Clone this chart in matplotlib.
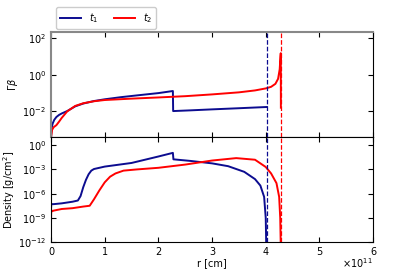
import matplotlib
matplotlib.use('Agg')
import matplotlib.pyplot as plt
import numpy as np

# radius in units of 1e11 cm
r1_gb = [0, 0.01, 0.03, 0.06, 0.1, 0.15, 0.2, 0.3, 0.45, 0.6, 0.8, 1.0, 1.3, 1.6, 2.0, 2.27, 2.275, 2.6, 3.0, 3.5, 4.02]
gb1 = [4e-4, 1.2e-3, 2.2e-3, 3.5e-3, 5e-3, 6.5e-3, 7.8e-3, 1.05e-2, 1.9e-2, 2.7e-2, 3.7e-2, 4.6e-2, 6e-2, 7.5e-2, 1.0e-1, 1.3e-1, 1.05e-2, 1.15e-2, 1.3e-2, 1.5e-2, 1.75e-2]

r2_gb = [0, 0.02, 0.05, 0.1, 0.15, 0.2, 0.3, 0.45, 0.6, 0.8, 1.0, 1.5, 2.0, 2.5, 3.0, 3.5, 3.8, 4.0, 4.1, 4.18, 4.23, 4.26, 4.275, 4.28, 4.282]
gb2 = [4e-4, 1e-3, 1.4e-3, 1.8e-3, 2.8e-3, 4.5e-3, 1.0e-2, 2.0e-2, 2.8e-2, 3.6e-2, 4.2e-2, 5.0e-2, 5.8e-2, 6.8e-2, 8.5e-2, 1.1e-1, 1.4e-1, 1.8e-1, 2.2e-1, 3.2e-1, 6e-1, 2.0, 10.0, 15.0, 1.6e-2]

r1_rho = [0, 0.005, 0.05, 0.2, 0.4, 0.5, 0.55, 0.6, 0.65, 0.7, 0.75, 0.8, 0.9, 1.0, 1.5, 2.0, 2.27, 2.28, 2.6, 3.0, 3.3, 3.6, 3.8, 3.9, 3.97, 4.0, 4.01]
log_rho1 = [-7.8, -7.3, -7.3, -7.2, -7.0, -6.85, -6.3, -5.2, -4.3, -3.6, -3.15, -2.95, -2.8, -2.65, -2.2, -1.4, -0.95, -1.75, -1.95, -2.25, -2.6, -3.3, -4.2, -5.0, -6.4, -9.0, -12.5]

r2_rho = [0, 0.003, 0.01, 0.05, 0.2, 0.4, 0.6, 0.72, 0.8, 0.9, 1.0, 1.1, 1.2, 1.35, 1.6, 2.0, 2.5, 3.0, 3.45, 3.8, 4.0, 4.1, 4.2, 4.25, 4.27, 4.28]
log_rho2 = [-9.3, -8.0, -8.2, -8.1, -7.9, -7.8, -7.6, -7.5, -6.7, -5.6, -4.6, -3.9, -3.5, -3.15, -3.0, -2.8, -2.4, -1.9, -1.6, -1.8, -2.7, -3.5, -4.7, -6.4, -9.0, -12.5]

r_edge = [4.02, 4.28]
labels = ['$t_1$', '$t_2$']
colors = ['#0c0c90', 'red']

plt.rcParams['font.size'] = 7

fig = plt.figure(figsize=(4.15, 2.77), dpi=100)
ax1 = fig.add_axes([0.123, 0.505, 0.776, 0.379])
ax2 = fig.add_axes([0.123, 0.126, 0.776, 0.379], sharex=ax1)

ax1.semilogy(r1_gb, gb1, color=colors[0], lw=1.4, label=labels[0])
ax1.semilogy(r2_gb, gb2, color=colors[1], lw=1.4, label=labels[1])
ax2.semilogy(r1_rho, 10.0 ** np.array(log_rho1), color=colors[0], lw=1.4)
ax2.semilogy(r2_rho, 10.0 ** np.array(log_rho2), color=colors[1], lw=1.4)

for ax in (ax1, ax2):
    for x, c in zip(r_edge, colors):
        ax.axvline(x, color=c, ls='--', lw=0.9)
    ax.tick_params(direction='in', top=True, right=True, labelsize=7)

ax1.set_ylim(4e-4, 2.1e2)
ax1.set_yticks([1e-2, 1, 1e2])
ax1.yaxis.set_minor_locator(matplotlib.ticker.NullLocator())
ax1.set_ylabel(r'$\Gamma\beta$', fontsize=7, labelpad=2)
ax1.tick_params(labelbottom=False)
ax1.spines['top'].set_color('#888888')
ax1.spines['left'].set_color('#888888')
ax1.spines['top'].set_linewidth(1.5)
ax1.spines['left'].set_linewidth(1.5)

ax2.set_ylim(1e-12, 10)
ax2.set_yticks([1e-12, 1e-9, 1e-6, 1e-3, 1])
ax2.yaxis.set_minor_locator(matplotlib.ticker.NullLocator())
ax2.set_xlim(0, 6)
ax2.set_xticks([0, 1, 2, 3, 4, 5, 6])
ax2.set_ylabel('Density [g/cm$^2$]', fontsize=7, labelpad=1)
ax2.set_xlabel('r [cm]', fontsize=7, labelpad=1)
ax2.text(1.0, -0.2, r'$\times10^{11}$', transform=ax2.transAxes,
         ha='right', va='center', fontsize=7)

ax1.legend(loc='lower left', bbox_to_anchor=(0.015, 1.03), ncol=2, fontsize=7,
           handlelength=2.2, handletextpad=0.8, columnspacing=1.6,
           borderaxespad=0, framealpha=1)

fig.savefig('out.png', dpi=100)
